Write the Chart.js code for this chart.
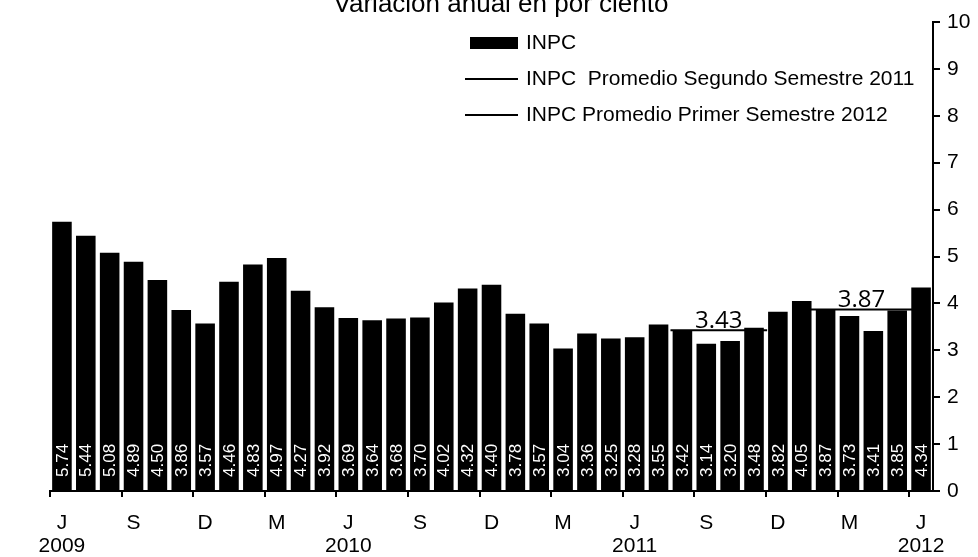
<!DOCTYPE html>
<html>
<head>
<meta charset="utf-8">
<script src="https://cdn.jsdelivr.net/npm/chart.js@4/dist/chart.umd.min.js"></script>
<style>
  html, body { margin: 0; padding: 0; background: #fff; }
  #wrap { width: 978px; height: 557px; position: relative; }
</style>
</head>
<body>
<div id="wrap"><canvas id="inpc-chart"></canvas></div>
<script>
// meses de jun-2009 a jun-2012
const categories = [
  'Jun 2009', 'Jul 2009', 'Ago 2009', 'Sep 2009', 'Oct 2009', 'Nov 2009', 'Dic 2009',
  'Ene 2010', 'Feb 2010', 'Mar 2010', 'Abr 2010', 'May 2010', 'Jun 2010', 'Jul 2010',
  'Ago 2010', 'Sep 2010', 'Oct 2010', 'Nov 2010', 'Dic 2010', 'Ene 2011', 'Feb 2011',
  'Mar 2011', 'Abr 2011', 'May 2011', 'Jun 2011', 'Jul 2011', 'Ago 2011', 'Sep 2011',
  'Oct 2011', 'Nov 2011', 'Dic 2011', 'Ene 2012', 'Feb 2012', 'Mar 2012', 'Abr 2012',
  'May 2012', 'Jun 2012'
];
const inpc = [
  5.74, 5.44, 5.08, 4.89, 4.50, 3.86, 3.57, 4.46, 4.83, 4.97, 4.27, 3.92, 3.69,
  3.64, 3.68, 3.70, 4.02, 4.32, 4.40, 3.78, 3.57, 3.04, 3.36, 3.25, 3.28, 3.55,
  3.42, 3.14, 3.20, 3.48, 3.82, 4.05, 3.87, 3.73, 3.41, 3.85, 4.34
];
const monthTicks = [
  'J', '', '', 'S', '', '', 'D', '', '', 'M', '', '', 'J', '', '', 'S', '', '', 'D',
  '', '', 'M', '', '', 'J', '', '', 'S', '', '', 'D', '', '', 'M', '', '', 'J'
];
const yearTicks = {0: '2009', 12: '2010', 24: '2011', 36: '2012'};

const avgSegundo2011 = 3.43;
const avgPrimer2012 = 3.87;
// tramo de cada promedio, en posiciones de mes (0 = jun 2009)
const segundoSpan = [25.5, 29.55];
const primerSpan = [31, 36];

const yTicks = [0, 1, 2, 3, 4, 5, 6, 7, 8, 9, 10];

const FONT = "'Liberation Sans', Arial, sans-serif";

const barLabels = {
  id: 'barLabels',
  afterDatasetsDraw(chart) {
    const ctx = chart.ctx;
    const meta = chart.getDatasetMeta(0);
    const base = chart.scales.y.getPixelForValue(0) - 14;
    ctx.save();
    ctx.fillStyle = '#fff';
    ctx.font = '17px ' + FONT;
    ctx.textAlign = 'left';
    ctx.textBaseline = 'middle';
    meta.data.forEach((bar, i) => {
      ctx.save();
      ctx.translate(bar.x, base);
      ctx.rotate(-Math.PI / 2);
      ctx.fillText(inpc[i].toFixed(2), 0, 1);
      ctx.restore();
    });
    ctx.restore();
  }
};

const avgLabels = {
  id: 'avgLabels',
  afterDatasetsDraw(chart) {
    const ctx = chart.ctx;
    ctx.save();
    ctx.fillStyle = '#000';
    ctx.font = "24px 'Open Sans', sans-serif";
    ctx.textAlign = 'center';
    ctx.textBaseline = 'alphabetic';
    [1, 2].forEach(di => {
      const pts = chart.getDatasetMeta(di).data;
      const x = (pts[0].x + pts[1].x) / 2;
      const v = chart.data.datasets[di].data[0].y;
      ctx.fillText(v.toFixed(2), x, pts[0].y - 2);
    });
    ctx.restore();
  }
};

const legendBox = {
  id: 'legendBox',
  afterDraw(chart) {
    const ctx = chart.ctx;
    const rows = [43, 79, 115];
    ctx.save();
    ctx.font = '21px ' + FONT;
    ctx.textBaseline = 'middle';
    ctx.textAlign = 'left';
    chart.data.datasets.forEach((ds, i) => {
      const y = rows[i];
      ctx.fillStyle = '#000';
      ctx.strokeStyle = '#000';
      if (ds.type === 'bar') {
        ctx.fillRect(470, y - 6, 48, 12);
      } else {
        ctx.lineWidth = 2;
        ctx.beginPath();
        ctx.moveTo(465, y);
        ctx.lineTo(518, y);
        ctx.stroke();
      }
      ctx.fillText(ds.label, 526, y);
    });
    // titulo (cortado arriba)
    ctx.font = '26px ' + FONT;
    ctx.textAlign = 'center';
    ctx.textBaseline = 'alphabetic';
    ctx.fillText('Variación anual en por ciento', 501, 12);
    ctx.restore();
  }
};

new Chart(document.getElementById('inpc-chart'), {
  data: {
    labels: categories,
    datasets: [{
      type: 'bar',
      label: 'INPC',
      data: inpc,
      backgroundColor: '#000',
      grouped: false,
      barPercentage: 0.82,
      categoryPercentage: 1.0,
      order: 2
    }, {
      type: 'line',
      label: 'INPC  Promedio Segundo Semestre 2011',
      xAxisID: 'xl',
      data: [{x: segundoSpan[0], y: avgSegundo2011}, {x: segundoSpan[1], y: avgSegundo2011}],
      borderColor: '#000',
      borderWidth: 2,
      pointRadius: 0,
      order: 1
    }, {
      type: 'line',
      label: 'INPC Promedio Primer Semestre 2012',
      xAxisID: 'xl',
      data: [{x: primerSpan[0], y: avgPrimer2012}, {x: primerSpan[1], y: avgPrimer2012}],
      borderColor: '#000',
      borderWidth: 2,
      pointRadius: 0,
      order: 1
    }]
  },
  options: {
    responsive: true,
    maintainAspectRatio: false,
    animation: false,
    layout: {
      padding: {left: 50, top: 22, right: 0, bottom: 0}
    },
    plugins: {
      legend: {display: false},
      tooltip: {enabled: false}
    },
    scales: {
      x: {
        type: 'category',
        offset: true,
        grid: {
          offset: true,
          drawOnChartArea: false,
          tickLength: 6,
          lineWidth: 2,
          tickColor: (c) => c.index % 3 === 0 ? '#000' : 'rgba(0,0,0,0)'
        },
        border: {color: '#000', width: 2},
        ticks: {
          autoSkip: false,
          maxRotation: 0,
          padding: 15,
          color: '#000',
          font: {family: FONT, size: 21, lineHeight: 1.1},
          callback: (v, i) => yearTicks[i] ? [monthTicks[i], yearTicks[i]] : monthTicks[i]
        },
        afterFit: (s) => { s.height = 66; }
      },
      xl: {
        type: 'linear',
        display: false,
        min: -0.5,
        max: categories.length - 0.5
      },
      y: {
        position: 'right',
        min: yTicks[0],
        max: yTicks[yTicks.length - 1],
        grid: {
          drawOnChartArea: false,
          tickLength: 7,
          lineWidth: 2,
          tickColor: '#000'
        },
        border: {color: '#000', width: 2},
        ticks: {
          stepSize: 1,
          padding: 7,
          color: '#000',
          font: {family: FONT, size: 21}
        },
        afterFit: (s) => { s.width = 45; }
      }
    }
  },
  plugins: [barLabels, avgLabels, legendBox]
});
</script>
</body>
</html>
